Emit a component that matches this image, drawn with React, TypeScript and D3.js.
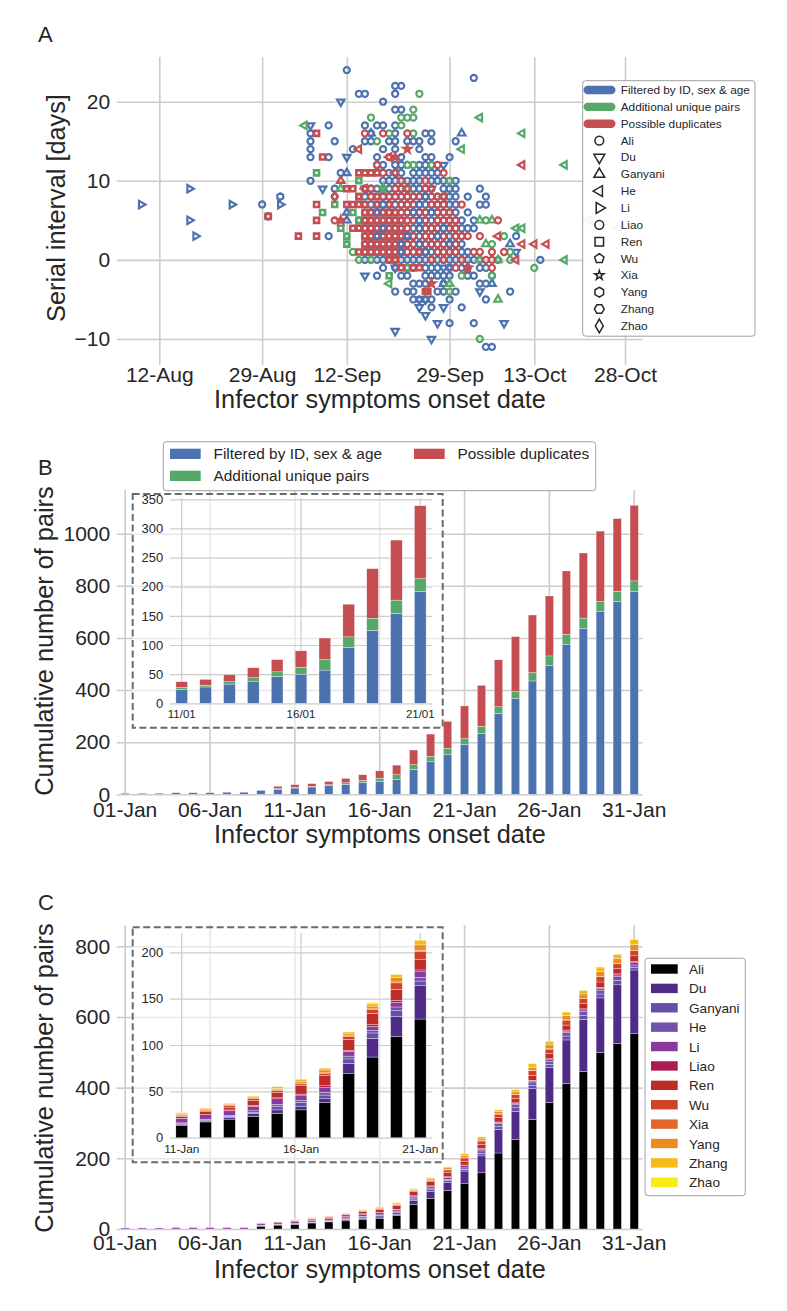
import React, { useEffect, useRef } from 'react';
import * as d3 from 'd3';

const FONT = '"Liberation Sans", Arial, sans-serif';
const INK = '#262626';
const GRID = '#cccccc';

const BLUE = '#4c72b0';
const GREEN = '#55a868';
const RED = '#c44e52';

// Panel A, rows of [serial interval, onset day counted from 12-Sep]
type Row = [number, number[]];

const filteredAli: Row[] = [
  [24, [0]], [23, [21]], [22, [8, 9]], [21, [2, 3, 8]], [20, [6]], [19, [8, 9]],
  [17, [-3, 3, 5, 6, 8]], [16, [-6, 4, 8, 13, 14]],
  [15, [-6, -2, 3, 4, 7, 8, 10, 11, 12, 14, 18]], [14, [-6, 1, 6, 8, 12]],
  [13, [-6, -3, 5, 9, 13, 14, 17]], [12, [5, 6, 8, 9, 10, 12, 13, 14]],
  [11, [-1, 7, 8, 9, 11, 12, 13, 14, 15]],
  [10, [-6, 6, 7, 8, 9, 10, 11, 12, 14, 15, 16, 17, 18]],
  [9, [-2, 3, 4, 5, 6, 7, 8, 9, 10, 11, 12, 13, 16, 17, 18, 22]],
  [8, [-2, 3, 4, 6, 7, 8, 9, 10, 11, 12, 13, 15, 16, 17, 18, 20, 23]],
  [7, [4, 5, 6, 7, 8, 9, 10, 11, 12, 13, 14, 15, 16, 17, 18, 22, 23]],
  [6, [3, 4, 5, 6, 7, 8, 9, 10, 11, 12, 13, 14, 15, 16, 17, 18, 20]],
  [5, [2, 3, 4, 5, 6, 7, 8, 9, 10, 11, 12, 13, 14, 15, 16, 17, 18, 19, 21]],
  [4, [3, 4, 5, 6, 7, 8, 9, 10, 11, 12, 13, 14, 15, 16, 17, 18, 19, 20, 21]],
  [3, [-3, 3, 4, 5, 6, 7, 8, 9, 10, 11, 12, 13, 14, 15, 16, 17, 18, 19, 28]],
  [2, [3, 4, 5, 6, 7, 8, 9, 10, 11, 12, 13, 14, 15, 16, 17, 18, 19]],
  [1, [3, 4, 5, 6, 7, 8, 9, 10, 11, 12, 13, 14, 15, 16, 17, 18, 19, 20]],
  [0, [3, 4, 5, 6, 7, 8, 9, 10, 11, 12, 13, 14, 15, 16, 17, 18, 19, 20, 21, 22, 25, 32]],
  [-1, [6, 8, 10, 11, 13, 14, 15, 17, 19, 20, 22, 23]],
  [-2, [5, 9, 10, 13, 14, 15, 16, 17, 20, 21, 24]],
  [-3, [11, 12, 13, 16, 22, 23]], [-4, [8, 10, 11, 15, 16, 18, 27]],
  [-5, [11, 12, 13, 14, 17, 23]], [-6, [14, 19]], [-8, [17, 21]], [-11, [23, 24]],
  [7.01, [-14]],
];
const filteredDu: Row[] = [
  [20, [-1]], [17, [-6]], [13, [0]], [12, [16]], [9, [-4, 3, 14]], [1, [28]],
  [-1, [8, 16, 17]], [-2, [3]], [-4, [22]], [-5, [12, 13]], [-6, [12, 16]],
  [-7, [13]], [-8, [15, 26]], [-9, [8]], [-10, [14]],
];
const filteredGanyani: Row[] = [
  [16, [4, 19]], [11, [0]], [6, [0]], [5, [0]], [2, [27]], [-3, [16, 24]],
];
const filteredLi: Row[] = [[9, [-26]], [7, [-34, -19, -11]], [5, [-26]], [3, [-25]]];
const filteredYang: Row[] = [[8, [-11]], [5.5, [-13]]];
// these few sit above the red block in the reference
const filteredAliOnTop: Row[] = [
  [6, [5, 11, 14]], [5, [12]], [4, [6, 12, 16]], [3, [5, 10, 15]], [2, [9, 12, 17]], [1, [13]],
  [7, [6, 12]], [8, [13]],
];
const filteredZhao: Row[] = [[1, [9]]];

const additionalAli: Row[] = [
  [21, [12]], [19, [11]], [18, [4, 9, 10, 11]], [17, [9]], [16, [7, 11]], [15, [5]],
  [12, [10, 11, 14]], [10, [17]], [5, [23]], [3, [26]], [2, [24]], [1, [1, 27]],
  [0, [2, 4, 27]], [-1, [31]], [-2, [19, 24]], [-4, [17]], [-10, [22]],
];
const additionalRen: Row[] = [
  [11, [-5]], [10, [2]], [8, [2]], [7, [-2]], [6, [-4, 1]], [5, [2]], [4, [-1, 2]],
  [3, [0]], [2, [0]], [-1, [10]], [-2, [7]],
];
const additionalHe: Row[] = [
  [18, [22]], [17, [-7]], [16, [29]], [14, [19]], [12, [36]], [9, [10]], [5, [40]],
  [4, [28, 29, 45]], [0, [36]], [-3, [7]],
];
const additionalGanyani: Row[] = [
  [9, [-1]], [5, [22, 24]], [2, [23]], [0, [22, 25]], [-3, [17]], [-5, [25]],
];
const additionalXia: Row[] = [[9, [6]]];

const duplicateAli: Row[] = [
  [16, [3, 6, 10]], [13, [7]], [12, [5, 15]], [11, [6, 16]], [10, [9, 13]], [9, [3, 4, 8, 9, 10, 13, 14]],
  [8, [4, 6, 7, 8, 9, 10, 11, 12, 13, 14, 15]], [7, [9, 10, 11, 14, 15, 16, 19]],
  [6, [9, 10, 11, 12, 13, 15, 16, 17]], [5, [-2, 10, 11, 12, 13, 15, 16, 17, 18, 25]],
  [4, [10, 12, 13, 14, 15, 17, 18]], [3, [11, 13, 14, 15, 16, 18, 19, 20, 22]],
  [2, [10, 11, 12, 13, 14, 15, 16, 17, 18]],
  [1, [10, 11, 12, 13, 15, 16, 17, 18, 21, 22, 24, 26]],
  [0, [14, 16, 19, 23, 24]], [-1, [18, 24]],
];
const duplicateRen: Row[] = [
  [16, [-5]], [13, [-4]], [11, [2, 3, 4, 5]], [9, [0, 1]], [8, [2, 5]],
  [7, [-5, 0, 1, 2, 3, 5, 7]], [6, [3, 4, 5, 6, 7, 8]],
  [5.5, [-13]], [5, [-5, 3, 4, 5, 6, 7, 8, 9]], [4, [1, 2, 3, 4, 5, 6, 7, 8, 9]],
  [3, [-8, -5, 3, 4, 5, 6, 7, 8, 9, 10]], [2, [3, 4, 5, 6, 7, 8, 9]],
  [1, [2, 3, 4, 5, 6, 7, 8, 9, 12]], [0, [7, 8]], [-1, [9, 11, 12]], [-4, [13, 13.4]],
];
const duplicateHe: Row[] = [
  [14, [2]], [13, [7]], [12, [29]], [11, [8]], [9, [3]], [8, [16]], [3, [25]],
  [2, [29, 31, 33]], [0, [28]],
];
const duplicateXia: Row[] = [[14, [10]], [13, [8]], [5, [-1]], [-1, [20]], [-3, [14]]];
const duplicateGanyani: Row[] = [[10, [-1]]];
const duplicateZhao: Row[] = [[8, [-2]]];

const scatterLayers: [Row[], string, string][] = [
  [filteredAli, BLUE, 'Ali'],
  [filteredDu, BLUE, 'Du'],
  [filteredGanyani, BLUE, 'Ganyani'],
  [filteredLi, BLUE, 'Li'],
  [filteredYang, BLUE, 'Yang'],
  [additionalAli, GREEN, 'Ali'],
  [additionalRen, GREEN, 'Ren'],
  [additionalHe, GREEN, 'He'],
  [additionalGanyani, GREEN, 'Ganyani'],
  [additionalXia, GREEN, 'Xia'],
  [duplicateRen, RED, 'Ren'],
  [duplicateAli, RED, 'Ali'],
  [duplicateHe, RED, 'He'],
  [duplicateXia, RED, 'Xia'],
  [duplicateGanyani, RED, 'Ganyani'],
  [duplicateZhao, RED, 'Zhao'],
  [filteredAliOnTop, BLUE, 'Ali'],
  [filteredZhao, BLUE, 'Zhao'],
];

const scatterDateTicks = ['2019-08-12', '2019-08-29', '2019-09-12', '2019-09-29', '2019-10-13', '2019-10-28'];
const scatterYTicks = [-10, 0, 10, 20];
const pairGroups = ['Filtered by ID, sex & age', 'Additional unique pairs', 'Possible duplicates'];
const pairColors = [BLUE, GREEN, RED];

// Panel B, new pairs stacked per onset day
const days = d3.range(1, 32).map(d => `${String(d).padStart(2, '0')}-Jan`);
const filteredCounts = [4, 4, 4, 6, 6, 6, 8, 8, 15, 18, 24, 28, 33, 38, 46, 50, 57, 96, 125, 154, 192, 234, 310, 367, 435, 495, 576, 637, 701, 740, 779];
const additionalCounts = [0, 0, 0, 0, 0, 0, 0, 0, 0, 4, 3, 3, 4, 6, 8, 12, 18, 18, 21, 23, 22, 27, 26, 27, 32, 36, 38, 39, 40, 39, 40];
const duplicateCounts = [0, 0, 0, 0, 0, 0, 0, 0, 0, 9, 10, 10, 12, 17, 21, 28, 37, 56, 85, 103, 125, 157, 180, 211, 221, 230, 243, 250, 269, 279, 290];
const pairSeries = [filteredCounts, additionalCounts, duplicateCounts];

// Panel C, same days split by study
const studies = ['Ali', 'Du', 'Ganyani', 'He', 'Li', 'Liao', 'Ren', 'Wu', 'Xia', 'Yang', 'Zhang', 'Zhao'];
const studyColors = ['#000000', '#4f2a87', '#6450a8', '#7053a8', '#8a3a9e', '#ad1a50', '#bd2c26', '#cf4228', '#e0662a', '#e98d22', '#f5ba18', '#f8ec14'];
const aliCounts = [0, 0, 0, 0, 0, 0, 0, 0, 8, 11, 13, 17, 20, 23, 26, 30, 38, 69, 87, 109, 128, 159, 215, 254, 310, 358, 412, 446, 499, 525, 554];
const duCounts = [0, 0, 0, 0, 0, 0, 0, 0, 1, 1, 1, 1, 2, 3, 4, 4, 4, 11, 20, 22, 36, 48, 67, 79, 87, 99, 123, 147, 155, 166, 179];
const ganyaniCounts = [0, 0, 0, 0, 0, 0, 0, 0, 1, 1, 1, 1, 1, 1, 4, 4, 4, 5, 6, 6, 5, 7, 9, 10, 10, 9, 11, 11, 11, 12, 7];
const heCounts = [0, 0, 0, 0, 0, 0, 0, 0, 1, 1, 1, 1, 1, 2, 2, 2, 3, 3, 3, 4, 4, 7, 8, 9, 9, 9, 10, 11, 11, 11, 7];
const liCounts = [3, 3, 3, 4, 4, 4, 4, 4, 4, 5, 5, 5, 5, 5, 6, 6, 5, 5, 4, 5, 6, 5, 2, 3, 3, 4, 4, 5, 5, 5, 7];
const liaoCounts = [0, 0, 0, 0, 0, 0, 0, 0, 0, 0, 0, 0, 1, 1, 1, 1, 2, 1, 2, 2, 2, 2, 2, 2, 2, 3, 3, 3, 3, 3, 3];
const renCounts = [0, 0, 0, 0, 0, 0, 0, 0, 1, 1, 2, 3, 3, 5, 6, 9, 11, 12, 12, 12, 11, 12, 12, 12, 14, 14, 14, 15, 15, 15, 16];
const wuCounts = [0, 0, 0, 0, 0, 0, 0, 0, 0, 0, 1, 1, 2, 2, 2, 2, 2, 3, 4, 7, 9, 9, 10, 11, 13, 13, 14, 14, 15, 14, 15];
const xiaCounts = [0, 0, 0, 0, 0, 0, 0, 0, 0, 0, 1, 1, 1, 1, 1, 1, 1, 1, 1, 1, 1, 1, 1, 1, 1, 1, 1, 1, 1, 1, 1];
const yangCounts = [0, 0, 0, 0, 0, 0, 0, 1, 0, 0, 1, 1, 0, 1, 1, 2, 3, 2, 3, 5, 6, 5, 6, 7, 9, 11, 12, 12, 14, 14, 16];
const zhangCounts = [0, 0, 0, 0, 0, 0, 0, 0, 0, 0, 1, 1, 1, 1, 2, 2, 2, 2, 3, 3, 5, 6, 5, 6, 10, 10, 10, 10, 12, 11, 14];
const zhaoCounts = [0, 0, 0, 0, 0, 0, 0, 0, 0, 0, 0, 0, 0, 0, 0, 0, 0, 0, 1, 0, 0, 0, 0, 1, 1, 0, 0, 0, 0, 0, 1];
const studySeries = [aliCounts, duCounts, ganyaniCounts, heCounts, liCounts, liaoCounts, renCounts, wuCounts, xiaCounts, yangCounts, zhangCounts, zhaoCounts];

const mainDayTicks = ['01-Jan', '06-Jan', '11-Jan', '16-Jan', '21-Jan', '26-Jan', '31-Jan'];
const insetDayTicks = ['11-Jan', '16-Jan', '21-Jan'];

type Sel = d3.Selection<any, any, any, any>;

const polygon = (sides: number, radius: number, start = 0) => {
  const pts = d3.range(sides).map(i => {
    const a = start + (i * 2 * Math.PI) / sides;
    return [radius * Math.sin(a), -radius * Math.cos(a)];
  });
  return `M${pts.join('L')}Z`;
};

// scale 1 is the scatter size, the legend uses a bigger one
const marker = (name: string, scale = 1): { d: string; rotate: number } => {
  const s = (type: d3.SymbolType, size: number) => d3.symbol(type, size * scale * scale)() as string;
  switch (name) {
    case 'Du': return { d: s(d3.symbolTriangle, 24), rotate: 180 };
    case 'Ganyani': return { d: s(d3.symbolTriangle, 24), rotate: 0 };
    case 'He': return { d: s(d3.symbolTriangle, 24), rotate: -90 };
    case 'Li': return { d: s(d3.symbolTriangle, 24), rotate: 90 };
    case 'Ren': return { d: s(d3.symbolSquare, 25), rotate: 0 };
    case 'Wu': return { d: polygon(5, 3.4 * scale), rotate: 0 };
    case 'Xia': return { d: s(d3.symbolStar, 18), rotate: 0 };
    case 'Yang': return { d: polygon(6, 3.4 * scale), rotate: 0 };
    case 'Zhang': return { d: polygon(6, 3.4 * scale, Math.PI / 6), rotate: 0 };
    case 'Zhao': return { d: s(d3.symbolDiamond, 26), rotate: 0 };
    default: return { d: s(d3.symbolCircle, 29), rotate: 0 };
  }
};

const label = (g: Sel, x: number, y: number, text: string, size: number, anchor = 'start', rotate = 0) =>
  g.append('text')
    .attr('transform', `translate(${x},${y}) rotate(${rotate})`)
    .attr('text-anchor', anchor)
    .attr('font-size', size)
    .attr('font-family', FONT)
    .attr('fill', INK)
    .text(text);

const styleAxis = (axisG: Sel, size: number, strokeWidth: number) => {
  axisG.select('.domain').remove();
  axisG.selectAll('line').attr('stroke', GRID).attr('stroke-width', strokeWidth);
  axisG.selectAll('text').attr('font-size', size).attr('font-family', FONT).attr('fill', INK);
};

interface StackOpts {
  labels: string[];
  keys: string[];
  colors: string[];
  series: number[][];
  left: number;
  right: number;
  top: number;
  yDomain: [number, number];
  yRange: [number, number];
  xTicks: string[];
  xFormat?: (d: string) => string;
  yTicks: number[];
  xSize: number;
  ySize: number;
  xPad: number;
  gridWidth: number;
}

const drawStack = (g: Sel, o: StackOpts) => {
  const x = d3.scaleBand<string>()
    .domain(o.labels)
    .range([o.left, o.right])
    .paddingInner(0.51)
    .paddingOuter(0.255);
  const y = d3.scaleLinear().domain(o.yDomain).range(o.yRange);
  const bottom = y(0);

  const xAxis = d3.axisBottom(x)
    .tickValues(o.xTicks)
    .tickSize(-(bottom - o.top))
    .tickPadding(o.xPad)
    .tickFormat(o.xFormat ?? (d => d));
  styleAxis(g.append('g').attr('transform', `translate(0,${bottom})`).call(xAxis), o.xSize, o.gridWidth);

  const yAxis = d3.axisLeft(y)
    .tickValues(o.yTicks)
    .tickSize(-(o.right - o.left))
    .tickPadding(6.5)
    .tickFormat(d3.format('d') as any);
  styleAxis(g.append('g').attr('transform', `translate(${o.left},0)`).call(yAxis), o.ySize, o.gridWidth);

  const rows = o.labels.map((label, i) => {
    const row: Record<string, any> = { label };
    o.keys.forEach((k, j) => { row[k] = o.series[j][i]; });
    return row;
  });
  const stacked = d3.stack<any>().keys(o.keys)(rows);

  stacked.forEach((layer, j) => {
    g.append('g')
      .attr('fill', o.colors[j])
      .attr('stroke', 'white')
      .attr('stroke-opacity', 0.7)
      .attr('stroke-width', 0.45)
      .selectAll('rect')
      .data(layer.filter(d => d[1] > d[0]))
      .join('rect')
      .attr('x', d => x(d.data.label) as number)
      .attr('width', x.bandwidth())
      .attr('y', d => y(d[1]))
      .attr('height', d => y(d[0]) - y(d[1]));
  });
};

const drawInsetFrame = (g: Sel, top: number, bottom: number) => {
  g.append('rect')
    .attr('x', 132.7)
    .attr('y', top)
    .attr('width', 310)
    .attr('height', bottom - top)
    .attr('fill', 'white')
    .attr('fill-opacity', 0.55);
};

const drawInsetBorder = (g: Sel, top: number, bottom: number) => {
  g.append('rect')
    .attr('x', 132.7)
    .attr('y', top)
    .attr('width', 310)
    .attr('height', bottom - top)
    .attr('fill', 'none')
    .attr('stroke', '#6b6b6b')
    .attr('stroke-width', 2)
    .attr('stroke-dasharray', '7,3.5');
};

const legendBox = (g: Sel, x: number, y: number, w: number, h: number) =>
  g.append('rect')
    .attr('x', x).attr('y', y).attr('width', w).attr('height', h)
    .attr('rx', 3)
    .attr('fill', 'white')
    .attr('fill-opacity', 0.93)
    .attr('stroke', '#a0a0a0')
    .attr('stroke-width', 1);

const drawScatter = (g: Sel) => {
  const anchorDays = [new Date(Date.UTC(2019, 7, 12)), new Date(Date.UTC(2019, 9, 28))];
  const x = d3.scaleUtc().domain(anchorDays).range([159.3, 625]);
  const y = d3.scaleLinear().domain([-10, 20]).range([339, 101.7]);
  const zero = new Date(Date.UTC(2019, 8, 12));

  const xAxis = d3.axisBottom(x)
    .tickValues(scatterDateTicks.map(d => new Date(d + 'T00:00:00Z')))
    .tickSize(-308)
    .tickPadding(2.5)
    .tickFormat(d3.utcFormat('%d-%b') as any);
  styleAxis(g.append('g').attr('transform', 'translate(0,365)').call(xAxis), 21, 1.6);

  const yAxis = d3.axisLeft(y)
    .tickValues(scatterYTicks)
    .tickSize(-526)
    .tickPadding(6.5);
  styleAxis(g.append('g').attr('transform', 'translate(116.7,0)').call(yAxis), 21, 1.6);

  scatterLayers.forEach(([rows, color, name]) => {
    const points = rows.flatMap(([si, onset]) => onset.map(day => ({ si, day })));
    const m = marker(name);
    g.append('g')
      .attr('fill', 'none')
      .attr('stroke', color)
      .attr('stroke-width', name === 'Ren' ? 2.6 : 2.2)
      .selectAll('path')
      .data(points)
      .join('path')
      .attr('d', m.d)
      .attr('transform', d => {
        const px = x(new Date(zero.getTime() + d.day * 864e5));
        return `translate(${px},${y(d.si)}) rotate(${m.rotate})`;
      });
  });

  // legend
  legendBox(g, 582.7, 80.7, 172.3, 255.5);
  const rowY = d3.scaleLinear().domain([0, 1]).range([90, 106.85]);
  pairGroups.forEach((name, i) => {
    g.append('rect')
      .attr('x', 583.5).attr('y', rowY(i) - 4.2).attr('width', 32).attr('height', 8.4)
      .attr('rx', 4.2).attr('fill', pairColors[i]);
    label(g, 620.7, rowY(i) + 4, name, 11.8);
  });
  studies.forEach((name, i) => {
    const row = rowY(i + 3);
    const m = marker(name, name === 'Xia' ? 1.2 : name === 'Ren' ? 1.7 : 1.45);
    g.append('path')
      .attr('d', m.d)
      .attr('transform', `translate(599.3,${row}) rotate(${m.rotate})`)
      .attr('fill', 'none')
      .attr('stroke', '#262626')
      .attr('stroke-width', 1.5);
    label(g, 620.7, row + 4, name, 11.8);
  });

  label(g, 380, 408, 'Infector symptoms onset date', 25.3, 'middle');
  label(g, 64.5, 208, 'Serial interval [days]', 25.3, 'middle', -90);
  label(g, 38, 42, 'A', 22);
};

const drawPairs = (g: Sel) => {
  drawStack(g, {
    labels: days, keys: pairGroups, colors: pairColors, series: pairSeries,
    left: 116.7, right: 642.7, top: 490,
    yDomain: [0, 1000], yRange: [794.3, 533.7],
    xTicks: mainDayTicks, yTicks: [0, 200, 400, 600, 800, 1000],
    xSize: 21, ySize: 21, xPad: 7.5, gridWidth: 1.6,
  });

  drawInsetFrame(g, 494, 727.7);
  drawStack(g, {
    labels: days.slice(10, 21), keys: pairGroups, colors: pairColors,
    series: pairSeries.map(s => s.slice(10, 21)),
    left: 169.8, right: 432.2, top: 498,
    yDomain: [0, 350], yRange: [703.3, 499.3],
    xTicks: insetDayTicks, xFormat: d => `${d.slice(0, 2)}/01`,
    yTicks: [0, 50, 100, 150, 200, 250, 300, 350],
    xSize: 11.5, ySize: 13, xPad: 7, gridWidth: 1.2,
  });
  drawInsetBorder(g, 494, 727.7);

  legendBox(g, 163.3, 441.7, 432.4, 49);
  const swatchX = [170, 170, 414];
  const swatchY = [448.7, 470.7, 448.7];
  pairGroups.forEach((name, i) => {
    g.append('rect')
      .attr('x', swatchX[i]).attr('y', swatchY[i]).attr('width', 30.7).attr('height', 10.3)
      .attr('fill', pairColors[i]);
    label(g, swatchX[i] + 43.5, swatchY[i] + 10.6, name, 15.4);
  });

  label(g, 380, 843, 'Infector symptoms onset date', 25.3, 'middle');
  label(g, 52.5, 641, 'Cumulative number of pairs', 25.3, 'middle', -90);
  label(g, 38, 475, 'B', 22);
};

const drawStudies = (g: Sel) => {
  drawStack(g, {
    labels: days, keys: studies, colors: studyColors, series: studySeries,
    left: 116.7, right: 642.7, top: 925,
    yDomain: [0, 800], yRange: [1229, 946.3],
    xTicks: mainDayTicks, yTicks: [0, 200, 400, 600, 800],
    xSize: 21, ySize: 21, xPad: 6.5, gridWidth: 1.6,
  });

  drawInsetFrame(g, 927.3, 1162.3);
  drawStack(g, {
    labels: days.slice(10, 21), keys: studies, colors: studyColors,
    series: studySeries.map(s => s.slice(10, 21)),
    left: 169.8, right: 432.2, top: 933,
    yDomain: [0, 200], yRange: [1137.7, 952.3],
    xTicks: insetDayTicks, yTicks: [0, 50, 100, 150, 200],
    xSize: 11.8, ySize: 13, xPad: 7, gridWidth: 1.2,
  });
  drawInsetBorder(g, 927.3, 1162.3);

  legendBox(g, 645, 958.3, 100.3, 237.4);
  const rowY = d3.scaleLinear().domain([0, 1]).range([969, 988.39]);
  studies.forEach((name, i) => {
    g.append('rect')
      .attr('x', 651).attr('y', rowY(i) - 4.7).attr('width', 26.7).attr('height', 9.4)
      .attr('fill', studyColors[i]);
    label(g, 689, rowY(i) + 5, name, 13.6);
  });

  label(g, 380, 1278, 'Infector symptoms onset date', 25.3, 'middle');
  label(g, 52.5, 1078, 'Cumulative number of pairs', 25.3, 'middle', -90);
  label(g, 38, 910, 'C', 22);
};

const App: React.FC = () => {
  const svgRef = useRef<SVGSVGElement>(null);

  useEffect(() => {
    if (!svgRef.current) return;
    const svg = d3.select(svgRef.current);
    svg.selectAll('*').remove();
    drawScatter(svg.append('g'));
    drawPairs(svg.append('g'));
    drawStudies(svg.append('g'));
  }, []);

  return (
    <svg
      ref={svgRef}
      width={787}
      height={1311}
      style={{ position: 'absolute', left: 0, top: 0, background: 'white' }}
    />
  );
};

export default App;
